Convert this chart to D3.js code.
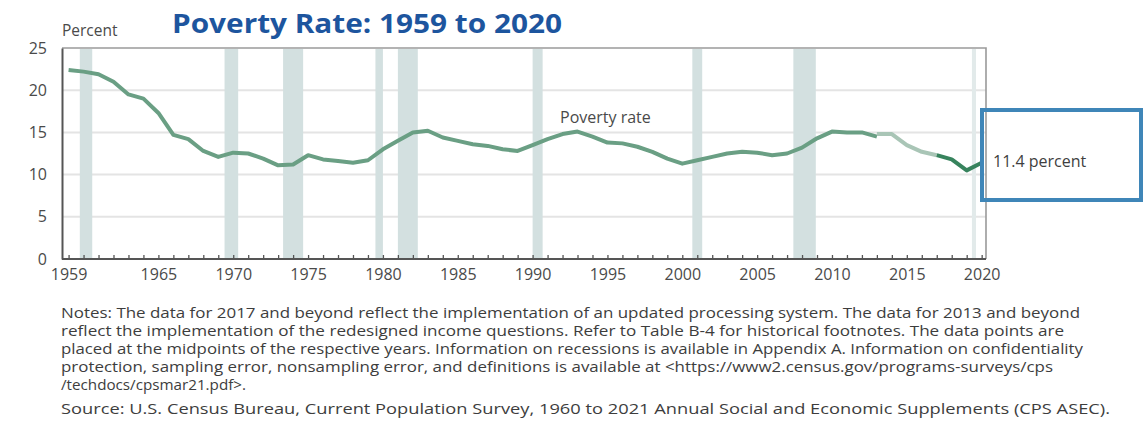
<!DOCTYPE html>
<html>
<head>
<meta charset="utf-8">
<script src="https://cdn.jsdelivr.net/npm/d3@7"></script>
<style>
  html, body { margin: 0; padding: 0; background: #fff; }
  svg { display: block; }
  text { font-family: "Open Sans", "DejaVu Sans", sans-serif; }
</style>
</head>
<body>
<svg id="chart" width="1145" height="425"></svg>
<script>
// Official poverty rate, percent. Three series: the original estimates,
// the redesigned income questions (2013+), and updated processing (2017+).
const yearsLegacy = [1959,1960,1961,1962,1963,1964,1965,1966,1967,1968,1969,
  1970,1971,1972,1973,1974,1975,1976,1977,1978,1979,1980,1981,1982,1983,1984,
  1985,1986,1987,1988,1989,1990,1991,1992,1993,1994,1995,1996,1997,1998,1999,
  2000,2001,2002,2003,2004,2005,2006,2007,2008,2009,2010,2011,2012,2013];
const rateLegacy = [22.4,22.2,21.9,21.0,19.5,19.0,17.3,14.7,14.2,12.8,12.1,
  12.6,12.5,11.9,11.1,11.2,12.3,11.8,11.6,11.4,11.7,13.0,14.0,15.0,15.2,14.4,
  14.0,13.6,13.4,13.0,12.8,13.5,14.2,14.8,15.1,14.5,13.8,13.7,13.3,12.7,11.9,
  11.3,11.7,12.1,12.5,12.7,12.6,12.3,12.5,13.2,14.3,15.1,15.0,15.0,14.5];

const yearsRedesign = [2013,2014,2015,2016,2017];
const rateRedesign = [14.8,14.8,13.5,12.7,12.3];

const yearsUpdated = [2017,2018,2019,2020];
const rateUpdated = [12.3,11.8,10.5,11.4];

// Recessions, peak to trough, in decimal calendar years
const recessionStart = [1960.25,1969.92,1973.83,1980.00,1981.50,1990.50,2001.17,2007.92,2019.85];
const recessionEnd   = [1961.08,1970.83,1975.17,1980.50,1982.83,1991.17,2001.83,2009.42,2020.12];

// Axis ticks
const tickYears = [1959,1960,1961,1962,1963,1964,1965,1966,1967,1968,1969,
  1970,1971,1972,1973,1974,1975,1976,1977,1978,1979,1980,1981,1982,1983,1984,
  1985,1986,1987,1988,1989,1990,1991,1992,1993,1994,1995,1996,1997,1998,1999,
  2000,2001,2002,2003,2004,2005,2006,2007,2008,2009,2010,2011,2012,2013,2014,
  2015,2016,2017,2018,2019,2020];
const labeledYears = [1959,1965,1970,1975,1980,1985,1990,1995,2000,2005,2010,2015,2020];
const yTicks = [0,5,10,15,20,25];

const titleText = "Poverty Rate: 1959 to 2020";
const noteLines = [
  "Notes: The data for 2017 and beyond reflect the implementation of an updated processing system. The data for 2013 and beyond",
  "reflect the implementation of the redesigned income questions. Refer to Table B-4 for historical footnotes. The data points are",
  "placed at the midpoints of the respective years. Information on recessions is available in Appendix A. Information on confidentiality",
  "protection, sampling error, nonsampling error, and definitions is available at <https://www2.census.gov/programs-surveys/cps",
  "/techdocs/cpsmar21.pdf>."
];
const sourceLine = "Source: U.S. Census Bureau, Current Population Survey, 1960 to 2021 Annual Social and Economic Supplements (CPS ASEC).";

// ---- layout ----
const svg = d3.select("#chart");
const plot = { left: 62, right: 986, top: 48, bottom: 259 };

// A data point for year Y sits at the middle of that year, on the tick for Y.
const x = d3.scaleLinear().domain([1958.56, 2020.29]).range([plot.left, plot.right]);
const xTime = t => x(t - 0.5);
const y = d3.scaleLinear().domain([0, 25]).range([plot.bottom, plot.top]);

// gridlines
svg.append("g")
  .selectAll("line")
  .data(yTicks.filter(v => v > 0 && v < 25))
  .join("line")
  .attr("x1", plot.left).attr("x2", plot.right)
  .attr("y1", d => y(d)).attr("y2", d => y(d))
  .attr("stroke", "#e4e4e4").attr("stroke-width", 2);

// recession shading
svg.append("g")
  .selectAll("rect")
  .data(recessionStart.map((s, i) => [s, recessionEnd[i]]))
  .join("rect")
  .attr("x", d => xTime(d[0]))
  .attr("width", d => Math.max(3, xTime(d[1]) - xTime(d[0])))
  .attr("y", plot.top + 1)
  .attr("height", plot.bottom - plot.top - 1)
  .attr("fill", (d, i) => i === recessionStart.length - 1 ? "#e2eaea" : "#d3e0e0");

// frame: light top/right edges
svg.append("path")
  .attr("d", `M${plot.left},${plot.top}H${plot.right}V${plot.bottom}`)
  .attr("fill", "none").attr("stroke", "#9a9a9a").attr("stroke-width", 1.6);

// x axis
const xAxis = d3.axisBottom(x)
  .tickValues(tickYears)
  .tickSizeInner(-4).tickSizeOuter(0)
  .tickPadding(10)
  .tickFormat(d => labeledYears.includes(d) ? String(d) : "");
const gx = svg.append("g")
  .attr("transform", `translate(0,${plot.bottom})`)
  .call(xAxis);
gx.select(".domain").attr("stroke", "#555").attr("stroke-width", 2)
  .attr("d", `M${plot.left},0H${plot.right}`);
gx.selectAll(".tick line").attr("stroke", "#555").attr("stroke-width", 1.3);
gx.selectAll(".tick text").attr("fill", "#4a4a4a").attr("font-size", 16)
  .attr("font-family", "'Open Sans', sans-serif");

// y axis
const yAxis = d3.axisLeft(y).tickValues(yTicks).tickSize(0).tickPadding(15);
const gy = svg.append("g")
  .attr("transform", `translate(${plot.left},0)`)
  .call(yAxis);
gy.select(".domain").attr("stroke", "#555").attr("stroke-width", 2);
gy.selectAll(".tick text").attr("fill", "#4a4a4a").attr("font-size", 16)
  .attr("font-family", "'Open Sans', sans-serif");

// poverty rate lines
const line = d3.line().x(d => x(d[0])).y(d => y(d[1]));
const series = [
  { years: yearsLegacy,   values: rateLegacy,   color: "#6a9f84" },
  { years: yearsRedesign, values: rateRedesign, color: "#a9c5b6" },
  { years: yearsUpdated,  values: rateUpdated,  color: "#37835d" }
];
svg.append("g")
  .selectAll("path")
  .data(series)
  .join("path")
  .attr("d", s => line(s.years.map((yr, i) => [yr, s.values[i]])))
  .attr("fill", "none")
  .attr("stroke", s => s.color)
  .attr("stroke-width", 4)
  .attr("stroke-linejoin", "round")
  .attr("stroke-linecap", "butt");

// labels
svg.append("text")
  .attr("x", 62).attr("y", 36)
  .attr("font-size", 15.5).attr("fill", "#4a4a4a")
  .text("Percent");

svg.append("text")
  .attr("x", 172).attr("y", 33)
  .attr("font-size", 26).attr("font-weight", 700).attr("fill", "#1d559e")
  .attr("textLength", 390).attr("lengthAdjust", "spacingAndGlyphs")
  .text(titleText);

svg.append("text")
  .attr("x", 560).attr("y", 123)
  .attr("font-size", 16).attr("fill", "#4a4a4a")
  .text("Poverty rate");

// highlighted final value
const lastRate = rateUpdated[rateUpdated.length - 1];
svg.append("rect")
  .attr("x", 982).attr("y", 110)
  .attr("width", 159).attr("height", 90)
  .attr("fill", "none").attr("stroke", "#3f86b8").attr("stroke-width", 4);
svg.append("text")
  .attr("x", 993).attr("y", 167)
  .attr("font-size", 16).attr("fill", "#3f3f3f")
  .text(`${lastRate} percent`);

// notes and source
const noteEnds = [1080, 1064, 1083, 1053, 246];
const notes = svg.append("g").attr("font-size", 14).attr("fill", "#3d3d3d");
noteLines.forEach((t, i) => {
  notes.append("text")
    .attr("x", 61).attr("y", 318 + i * 18)
    .attr("textLength", noteEnds[i] - 61).attr("lengthAdjust", "spacingAndGlyphs")
    .text(t);
});
notes.append("text")
  .attr("x", 61).attr("y", 414)
  .attr("textLength", 1110 - 61).attr("lengthAdjust", "spacingAndGlyphs")
  .text(sourceLine);
</script>
</body>
</html>
